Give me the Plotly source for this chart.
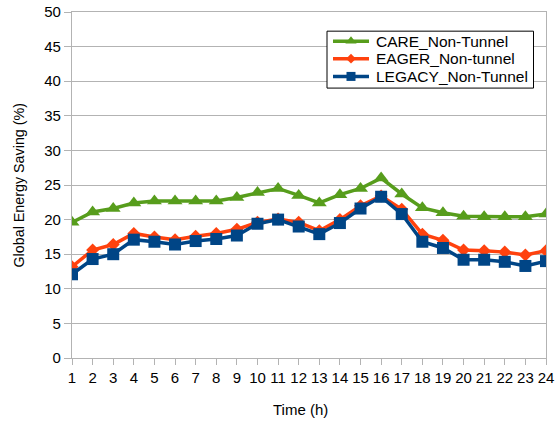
import plotly.graph_objects as go

hours = list(range(1, 25))
care = [19.6, 21.1, 21.6, 22.4, 22.7, 22.7, 22.7, 22.7, 23.2, 23.9, 24.5, 23.5,
        22.4, 23.6, 24.5, 26.0, 23.7, 21.7, 21.0, 20.5, 20.4, 20.4, 20.4, 20.8]
eager = [13.2, 15.6, 16.4, 18.0, 17.5, 17.1, 17.6, 18.0, 18.6, 19.6, 20.1, 19.6,
         18.4, 20.0, 22.0, 23.4, 21.5, 17.9, 17.0, 15.6, 15.5, 15.3, 14.9, 15.5]
legacy = [12.1, 14.3, 15.0, 17.1, 16.8, 16.4, 16.9, 17.2, 17.7, 19.4, 20.0, 19.0,
          17.9, 19.5, 21.6, 23.3, 20.8, 16.8, 15.9, 14.2, 14.2, 13.9, 13.3, 14.0]
names = ["CARE_Non-Tunnel", "EAGER_Non-tunnel", "LEGACY_Non-Tunnel"]
colors = ["#579d1c", "#ff420e", "#004586"]
symbols = ["triangle-up", "diamond", "square"]
sizes = [13, 10, 12]

# plot-area geometry in pixels
W, H = 557, 423
L, R, T, B = 72, 546, 11.5, 358

fig = go.Figure()
for name, vals, c, s, sz in zip(names, [care, eager, legacy], colors, symbols, sizes):
    fig.add_trace(go.Scatter(
        x=hours, y=vals, name=name, mode="lines+markers",
        line=dict(color=c, width=3.5),
        marker=dict(symbol=s, size=sz, color=c),
        showlegend=False,
    ))

# custom legend (pixel overlay axes)
leg_x0, leg_x1, leg_y0, leg_y1 = 327, 533.5, 30.7, 87.7
row_y = [40.7, 58.3, 76.0]
line_x0, line_x1, text_x = 333, 369, 373.5
fig.add_trace(go.Scatter(
    x=[leg_x0, leg_x1, leg_x1, leg_x0, leg_x0], y=[leg_y0, leg_y0, leg_y1, leg_y1, leg_y0],
    xaxis="x2", yaxis="y2", mode="lines", fill="toself", fillcolor="white",
    line=dict(color="#000000", width=1), showlegend=False, hoverinfo="skip", cliponaxis=False,
))
for name, c, s, sz, ry in zip(names, colors, symbols, sizes, row_y):
    fig.add_trace(go.Scatter(
        x=[line_x0, line_x1], y=[ry, ry], xaxis="x2", yaxis="y2", mode="lines",
        line=dict(color=c, width=3.5), showlegend=False, hoverinfo="skip", cliponaxis=False,
    ))
    fig.add_trace(go.Scatter(
        x=[(line_x0 + line_x1) / 2], y=[ry], xaxis="x2", yaxis="y2", mode="markers",
        marker=dict(symbol=s, size=sz * 0.75, color=c), showlegend=False,
        hoverinfo="skip", cliponaxis=False,
    ))
    fig.add_annotation(x=text_x, y=ry, xref="x2", yref="y2", text=name, showarrow=False,
                       xanchor="left", yanchor="middle", font=dict(size=15.5, color="#000"))

# axis titles
fig.add_annotation(x=(18.5 - L) / (R - L), y=0.5, xref="paper", yref="paper",
                   text="Global Energy Saving (%)", textangle=-90, showarrow=False,
                   xanchor="center", yanchor="middle", font=dict(size=14.3, color="#000"))
fig.add_annotation(x=(300 - L) / (R - L), y=(B - 410) / (B - T), xref="paper", yref="paper",
                   text="Time (h)", showarrow=False, xanchor="center", yanchor="middle",
                   font=dict(size=15, color="#000"))

grid = "#b3b3b3"
fig.update_layout(
    width=W, height=H,
    margin=dict(l=L, r=W - R, t=T, b=H - B),
    paper_bgcolor="white", plot_bgcolor="white",
    font=dict(family="Liberation Sans, Arial, sans-serif", size=15, color="#000000"),
    showlegend=False,
    xaxis=dict(
        range=[1, 24], tickmode="array", tickvals=hours,
        ticktext=[str(h) for h in hours],
        showgrid=False, showline=True, linecolor=grid, linewidth=1.3, mirror=True,
        ticks="outside", ticklen=6, tickcolor=grid, tickwidth=1.3,
        tickfont=dict(size=15), automargin=False, zeroline=False,
    ),
    yaxis=dict(
        range=[0, 50], dtick=5, tick0=0,
        showgrid=True, gridcolor=grid, gridwidth=1.3,
        showline=True, linecolor=grid, linewidth=1.3, mirror=True,
        ticks="outside", ticklen=7, tickcolor=grid, tickwidth=1.3,
        tickfont=dict(size=15), automargin=False, zeroline=False,
    ),
    xaxis2=dict(range=[L, R], overlaying="x", anchor="y2", visible=False,
                showgrid=False, zeroline=False, fixedrange=True),
    yaxis2=dict(range=[B, T], overlaying="y", anchor="x2", visible=False,
                showgrid=False, zeroline=False, fixedrange=True),
)

fig.write_html("out.html", config={"displayModeBar": False},
               post_script="document.body.style.margin='0';document.body.style.padding='0';window.dispatchEvent(new Event('resize'));")
